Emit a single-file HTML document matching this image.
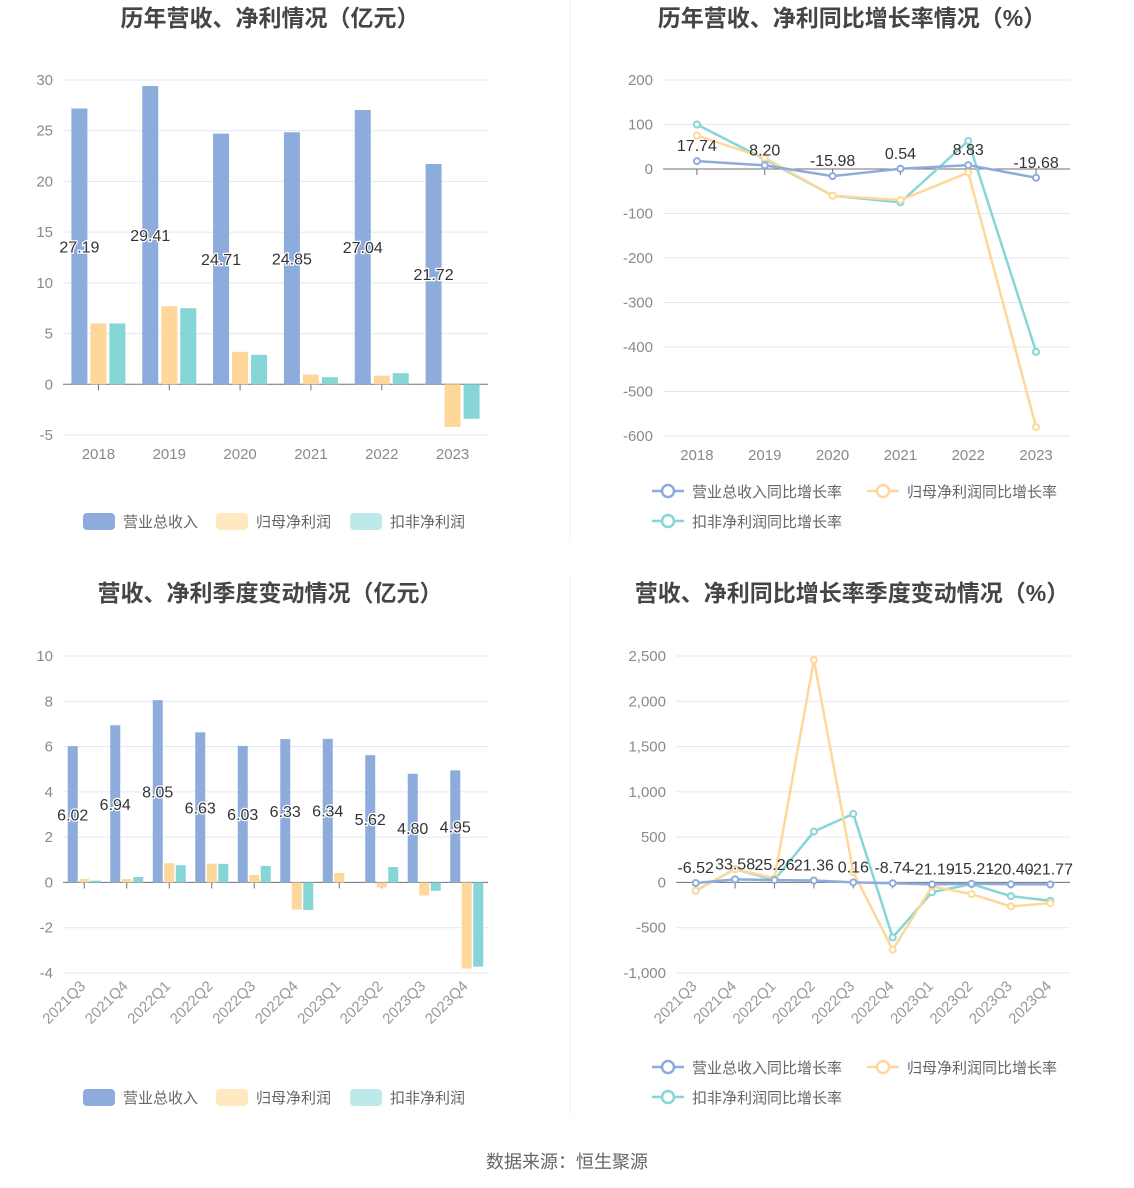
<!DOCTYPE html>
<html><head><meta charset="utf-8"><style>
body{margin:0;background:#fff;}
svg{display:block;font-family:"Liberation Sans","Noto Sans CJK SC",sans-serif;}
</style></head><body>
<svg id="s" width="1134" height="1188" viewBox="0 0 1134 1188" xmlns="http://www.w3.org/2000/svg">
<line x1="570" y1="0" x2="570" y2="540" stroke="#eef0f4"/>
<line x1="570" y1="575" x2="570" y2="1115" stroke="#eef0f4"/>
<text x="270" y="26" text-anchor="middle" font-size="23" font-weight="bold" fill="#454545">历年营收、净利情况（亿元）</text>
<text x="852" y="26" text-anchor="middle" font-size="23" font-weight="bold" fill="#454545">历年营收、净利同比增长率情况（%）</text>
<text x="270" y="601" text-anchor="middle" font-size="23" font-weight="bold" fill="#454545">营收、净利季度变动情况（亿元）</text>
<text x="852" y="601" text-anchor="middle" font-size="23" font-weight="bold" fill="#454545">营收、净利同比增长率季度变动情况（%）</text>
<text x="567" y="1168" text-anchor="middle" font-size="18" fill="#666">数据来源：恒生聚源</text>
</svg>
<script>
const years = ["2018","2019","2020","2021","2022","2023"];
const yearRevenue = [27.19,29.41,24.71,24.85,27.04,21.72];
const yearNetProfit = [6.0,7.7,3.2,0.95,0.85,-4.2];
const yearDeductedProfit = [6.0,7.5,2.9,0.7,1.1,-3.4];
const yearTicks1 = [30,25,20,15,10,5,0,-5];
const yearRevenueGrowth = [17.74,8.20,-15.98,0.54,8.83,-19.68];
const yearNetGrowth = [75,25,-60,-70,-8,-580];
const yearDeductedGrowth = [100,22,-60,-75,63,-411];
const yearTicks2 = [200,100,0,-100,-200,-300,-400,-500,-600];
const quarters = ["2021Q3","2021Q4","2022Q1","2022Q2","2022Q3","2022Q4","2023Q1","2023Q2","2023Q3","2023Q4"];
const qRevenue = [6.02,6.94,8.05,6.63,6.03,6.33,6.34,5.62,4.80,4.95];
const qNetProfit = [0.15,0.15,0.85,0.83,0.33,-1.2,0.42,-0.22,-0.58,-3.8];
const qDeductedProfit = [0.08,0.24,0.76,0.82,0.73,-1.22,0.0,0.68,-0.37,-3.72];
const qTicks1 = [10,8,6,4,2,0,-2,-4];
const qRevenueGrowth = [-6.52,33.58,25.26,21.36,0.16,-8.74,-21.19,-15.21,-20.40,-21.77];
const qNetGrowth = [-90,145,48,2456,114,-743,-44,-129,-265,-228];
const qDeductedGrowth = [-92,147,29,562,757,-607,-107,-18,-151,-202];
const qTicks2 = [2500,2000,1500,1000,500,0,-500,-1000];

const C = {blue:"#8eacdb",orange:"#fdd89a",teal:"#86d6d8"};
const S = document.getElementById('s');
const NS = "http://www.w3.org/2000/svg";
function mk(tag, attrs, parent){const e=document.createElementNS(NS,tag);for(const k in attrs)e.setAttribute(k,attrs[k]);(parent||S).appendChild(e);return e;}
function fmt(v){return v.toLocaleString('en-US');}

function axes(g, x0, x1, yTop, yBot, vMax, vMin, ticks, cats, rotate){
  const y = v => yTop + (vMax - v)/(vMax - vMin)*(yBot - yTop);
  ticks.forEach(t=>{
    const gl = mk('line',{x1:x0,x2:x1,y1:y(t),y2:y(t),stroke:t===0?"#6e7079":"#e3e7f2","stroke-width":1},g);
    
    
    const tl = mk('text',{x:x0-10,y:y(t)+5,"text-anchor":"end","font-size":15,fill:"#8a8a8a"},g);
    tl.textContent = fmt(t);
    
    
  });
  const bw = (x1-x0)/cats.length;
  const xc = i => x0 + bw*(i+0.5);
  cats.forEach((c,i)=>{
    const tk = mk('line',{x1:xc(i),x2:xc(i),y1:y(0),y2:y(0)+6,stroke:"#6e7079"},g);
    
    
    let t;
    if(rotate){
      t = mk('text',{x:xc(i)+2,y:yBot+14,"text-anchor":"end","font-size":15,fill:"#999",transform:`rotate(-45 ${xc(i)+2} ${yBot+14})`},g);
    } else {
      t = mk('text',{x:xc(i),y:yBot+24,"text-anchor":"middle","font-size":15,fill:"#8a8a8a"},g);
    }
    t.textContent = c;
    
    
  });
  return {y, xc, bw};
}

function barChart(name, x0,x1,yTop,yBot,vMax,vMin,ticks,cats,series,rotate,barW,gap){
  const g = mk('g',{});
  
  
  const a = axes(g,x0,x1,yTop,yBot,vMax,vMin,ticks,cats,rotate);
  const total = barW*3+gap*2;
  series.forEach((s,si)=>{
    s.vals.forEach((v,i)=>{
      const bx = a.xc(i)-total/2+si*(barW+gap);
      const yv=a.y(v), y0=a.y(0);
      const r = mk('rect',{x:bx,y:Math.min(yv,y0),width:barW,height:Math.abs(y0-yv),fill:s.color},g);
      
      
    });
  });
  series[0].vals.forEach((v,i)=>{
    const bx = a.xc(i)-total/2+barW/2;
    const t = mk('text',{x:bx,y:(a.y(v)+a.y(0))/2+6,"text-anchor":"middle","font-size":16,fill:"#333",stroke:"#fff","stroke-width":2.5,"paint-order":"stroke"},g);
    t.textContent = v.toFixed(2);
    
    
  });
}

function lineChart(name,x0,x1,yTop,yBot,vMax,vMin,ticks,cats,series,rotate){
  const g = mk('g',{});
  
  
  const a = axes(g,x0,x1,yTop,yBot,vMax,vMin,ticks,cats,rotate);
  series.slice().reverse().forEach(s=>{
    const pts = s.vals.map((v,i)=>a.xc(i)+','+a.y(v)).join(' ');
    const pl = mk('polyline',{points:pts,fill:"none",stroke:s.color,"stroke-width":2.5},g);
    
    
    s.vals.forEach((v,i)=>{
      const c = mk('circle',{cx:a.xc(i),cy:a.y(v),r:3,fill:"#fff",stroke:s.color,"stroke-width":2},g);
      
      
    });
  });
  series[0].vals.forEach((v,i)=>{
    const t = mk('text',{x:a.xc(i),y:a.y(v)-10,"text-anchor":"middle","font-size":16,fill:"#333"},g);
    t.textContent = v.toFixed(2);
    
    
  });
}

function barLegend(y){
  const items=[["营业总收入","#8eacdb",83],["归母净利润","#ffe8c2",216],["扣非净利润","#bde9ea",350]];
  items.forEach(it=>{
    const g = mk('g',{});
    
    
    mk('rect',{x:it[2],y:y-8,width:32,height:17,rx:4,fill:it[1]},g);
    const t = mk('text',{x:it[2]+40,y:y+6,"font-size":15,fill:"#666"},g);
    t.textContent = it[0];
  });
}
function lineLegend(y){
  const items=[["营业总收入同比增长率",C.blue,652,y],["归母净利润同比增长率",C.orange,867,y],["扣非净利润同比增长率",C.teal,652,y+30]];
  items.forEach(it=>{
    const g = mk('g',{});
    
    
    mk('line',{x1:it[2],x2:it[2]+32,y1:it[3],y2:it[3],stroke:it[1],"stroke-width":2.5},g);
    mk('circle',{cx:it[2]+16,cy:it[3],r:6,fill:"#fff",stroke:it[1],"stroke-width":2.5},g);
    const t = mk('text',{x:it[2]+40,y:it[3]+6,"font-size":15,fill:"#666"},g);
    t.textContent = it[0];
  });
}

barChart('chart1-annual-bars',63,488,80,435,30,-5,yearTicks1,years,
  [{key:'revenue',vals:yearRevenue,color:C.blue},{key:'net-profit',vals:yearNetProfit,color:C.orange},{key:'deducted-profit',vals:yearDeductedProfit,color:C.teal}],false,16,3);
lineChart('chart2-annual-growth',663,1070,80,436,200,-600,yearTicks2,years,
  [{key:'revenue-growth',vals:yearRevenueGrowth,color:C.blue},{key:'net-growth',vals:yearNetGrowth,color:C.orange},{key:'deducted-growth',vals:yearDeductedGrowth,color:C.teal}],false);
barChart('chart3-quarter-bars',63,488,656,973,10,-4,qTicks1,quarters,
  [{key:'revenue',vals:qRevenue,color:C.blue},{key:'net-profit',vals:qNetProfit,color:C.orange},{key:'deducted-profit',vals:qDeductedProfit,color:C.teal}],true,10,1.5);
lineChart('chart4-quarter-growth',676,1070,656,973,2500,-1000,qTicks2,quarters,
  [{key:'revenue-growth',vals:qRevenueGrowth,color:C.blue},{key:'net-growth',vals:qNetGrowth,color:C.orange},{key:'deducted-growth',vals:qDeductedGrowth,color:C.teal}],true);
barLegend(521); barLegend(1097);
lineLegend(491); lineLegend(1067);
</script>
</body></html>
